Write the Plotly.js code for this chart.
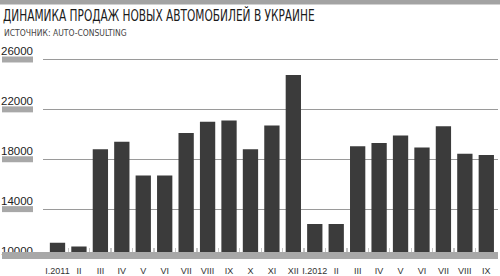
<!DOCTYPE html>
<html>
<head>
<meta charset="utf-8">
<script src="https://cdn.plot.ly/plotly-3.0.1.min.js"></script>
<style>
html,body{margin:0;padding:0;background:#fff;}
#chart{width:500px;height:276px;}
#chart .gtitle{transform-box:fill-box;transform-origin:0 50%;transform:scaleX(0.76);}
</style>
</head>
<body>
<div id="chart"></div>
<script>
// ---- data ----
const titleText = "ДИНАМИКА ПРОДАЖ НОВЫХ АВТОМОБИЛЕЙ В УКРАИНЕ";
const sourceText = "ИСТОЧНИК: AUTO-CONSULTING";
const months = ["I.2011","II","III","IV","V","VI","VII","VIII","IX","X","XI","XII",
                "I.2012","II","III","IV","V","VI","VII","VIII","IX"];
const sales = [11300, 11000, 18800, 19400, 16700, 16700, 20100, 21000, 21100, 18800, 20700, 24750,
               12800, 12800, 19050, 19300, 19900, 18950, 20650, 18450, 18350];
const yTicks = [10000, 14000, 18000, 22000, 26000];

// ---- layout constants ----
const W = 500, H = 276, ML = 43, MR = 2, MT = 52, MB = 17;
const plotW = W - ML - MR, plotH = H - MT - MB;
const yMin = 10000, yMax = 26600;
const pxPerVal = plotH / (yMax - yMin);
const bandTopPx = 6.9;
const gray = "#a8a8a8";
const step = 21.44;

const idx = months.map((_, i) => i);
const boundaries = idx.slice(1).map(i => i - 0.5);

const shapes = [];
shapes.push({type:"rect", xref:"paper", yref:"paper",
  x0:(0-ML)/plotW, x1:(W-ML)/plotW, y0:1 + (MT-4.5)/plotH, y1:1 + MT/plotH,
  fillcolor:"#a3a3a3", line:{width:0}, layer:"above"});
shapes.push({type:"rect", xref:"paper", yref:"y",
  x0:(2-ML)/plotW, x1:1, y0:yMin - 1.5/pxPerVal, y1:yMin + bandTopPx/pxPerVal,
  fillcolor:gray, line:{width:0}, layer:"above"});
yTicks.filter(v => v > yMin).forEach(v => {
  shapes.push({type:"rect", xref:"paper", yref:"y",
    x0:(2-ML)/plotW, x1:(33-ML)/plotW, y0:v - 3/pxPerVal, y1:v + 3/pxPerVal,
    fillcolor:gray, line:{width:0}});
});

const trace = {
  type:"bar", x: idx, y: sales, marker:{color:"#3b3b3b", line:{width:0}},
  hoverinfo:"skip"
};

const layout = {
  width:W, height:H,
  margin:{l:ML, r:MR, t:MT, b:MB, pad:0},
  paper_bgcolor:"#fff", plot_bgcolor:"#fff",
  bargap:0.286,
  showlegend:false,
  title:{text:titleText, font:{family:"DejaVu Sans Condensed, Liberation Sans, sans-serif", size:15.5, color:"#1a1a1a"},
    xref:"container", x:3/W, xanchor:"left", yref:"container", y:1 - 10/H, yanchor:"top", pad:{t:0,b:0,l:0,r:0}},
  annotations:[{text:sourceText, xref:"paper", yref:"paper", x:(3-ML)/plotW, xanchor:"left",
    y:1 + (MT-32.5)/plotH, yanchor:"middle", showarrow:false, borderpad:0,
    font:{family:"DejaVu Sans Condensed, Liberation Sans, sans-serif", size:8.5, color:"#444"}}],
  xaxis:{
    range:[-(57.5 - ML)/step, (W - MR - 57.5)/step],
    tickmode:"array", tickvals: idx, ticktext: months, tickangle:0,
    ticks:"", showline:false, showgrid:false, zeroline:false,
    anchor:"free", position: bandTopPx/plotH,
    ticklabelstandoff: 12,
    tickfont:{family:"Liberation Sans, Arial, sans-serif", size:9, color:"#333"},
    minor:{tickmode:"array", tickvals: boundaries, ticks:"inside", ticklen:4, tickwidth:1.3, tickcolor:"#c4c4c4", showgrid:false}
  },
  yaxis:{
    range:[yMin, yMax],
    tickmode:"array", tickvals: yTicks, ticktext: yTicks.map(String),
    ticks:"", showline:false, zeroline:false,
    showgrid:true, gridcolor:"#9a9a9a", gridwidth:1,
    ticklabelposition:"outside top",
    ticklabelstandoff: 9,
    tickfont:{family:"Liberation Sans, Arial, sans-serif", size:11.5, color:"#222"}
  },
  shapes: shapes
};

Plotly.newPlot("chart", [trace], layout, {staticPlot:true, displayModeBar:false});
</script>
</body>
</html>
